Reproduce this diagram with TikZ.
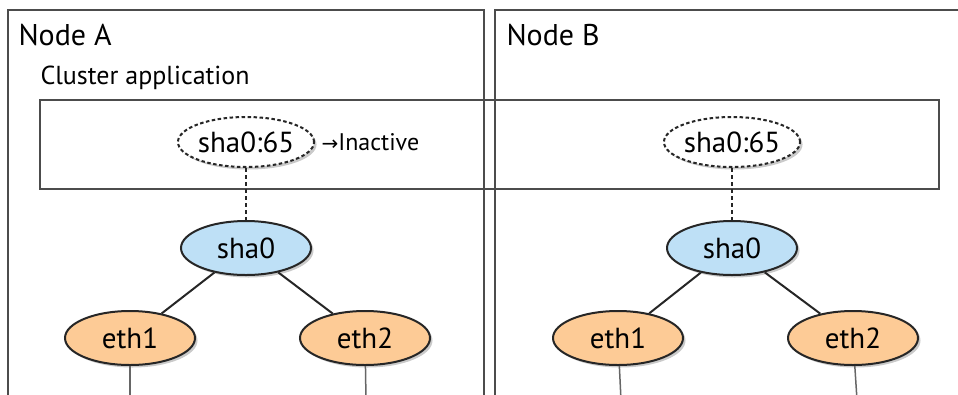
\documentclass[tikz,border=0pt]{standalone}
\usepackage{fontspec}
\setmainfont{PT Sans}
\newfontfamily\arrowfont{DejaVu Sans}
\usetikzlibrary{positioning, shapes.geometric, shadows}
\definecolor{virtblue}{RGB}{190,224,246}
\definecolor{physorange}{RGB}{253,203,150}

\begin{document}
\begin{tikzpicture}[
  x=1pt, y=-1pt,
  every node/.style={font=\fontsize{29}{33}\selectfont},
  frame/.style={draw=black!70, line width=1.5pt},
  nic/.style={ellipse, draw=black!85, line width=2pt, minimum width=130pt,
              minimum height=54pt, inner sep=0pt,
              drop shadow={shadow xshift=2.5pt, shadow yshift=-2.5pt, opacity=0.35, fill=black!60}},
  virt/.style={nic, fill=virtblue},
  phys/.style={nic, fill=physorange},
  takeover/.style={nic, fill=white, dashed, dash pattern=on 3.5pt off 2.5pt, minimum height=50pt},
  link/.style={draw=black!85, line width=2pt},
  wire/.style={draw=black!60, line width=1.5pt}
]
\useasboundingbox (0,0) rectangle (958,394);
\clip (0,0) rectangle (958,394);

% node frames
\draw[frame] (8,10) rectangle (484,420);
\draw[frame] (495,10) rectangle (970,420);
\node[anchor=west, font=\fontsize{30}{34}\selectfont] (labA) at (15,35) {Node A};
\node[anchor=west, font=\fontsize{30}{34}\selectfont] (labB) at (503,35) {Node B};

% cluster application
\draw[frame] (40,100) rectangle (939,189);
\node[anchor=west, font=\fontsize{26}{30}\selectfont] (labCA) at (37,78) {Cluster application};

% Node A
\node[takeover] (ipA) at (246,142) {sha0:65};
\node[anchor=west, font=\fontsize{24}{28}\selectfont] (inact) at (318,142) {{\arrowfont\fontsize{20}{24}\selectfont →}Inactive};
\node[virt] (shaA) at (246,248) {sha0};
\node[phys] (ethA1) at (130,338) {eth1};
\node[phys] (ethA2) at (365,338) {eth2};
\coordinate (endA1) at (130,400);
\coordinate (endA2) at (366,400);

% Node B
\node[takeover] (ipB) at (732,142) {sha0:65};
\node[virt] (shaB) at (732,248) {sha0};
\node[phys] (ethB1) at (618,338) {eth1};
\node[phys] (ethB2) at (853,338) {eth2};
\coordinate (endB1) at (621,400);
\coordinate (endB2) at (857,400);

% connections
\draw[link, dashed, dash pattern=on 4pt off 3pt] (ipA) -- (shaA);
\draw[link, dashed, dash pattern=on 4pt off 3pt] (ipB) -- (shaB);
\draw[link] (shaA) -- (ethA1);
\draw[link] (shaA) -- (ethA2);
\draw[link] (shaB) -- (ethB1);
\draw[link] (shaB) -- (ethB2);
\draw[wire] (ethA1) -- (endA1);
\draw[wire] (ethA2) -- (endA2);
\draw[wire] (ethB1) -- (endB1);
\draw[wire] (ethB2) -- (endB2);

\end{tikzpicture}
\end{document}
